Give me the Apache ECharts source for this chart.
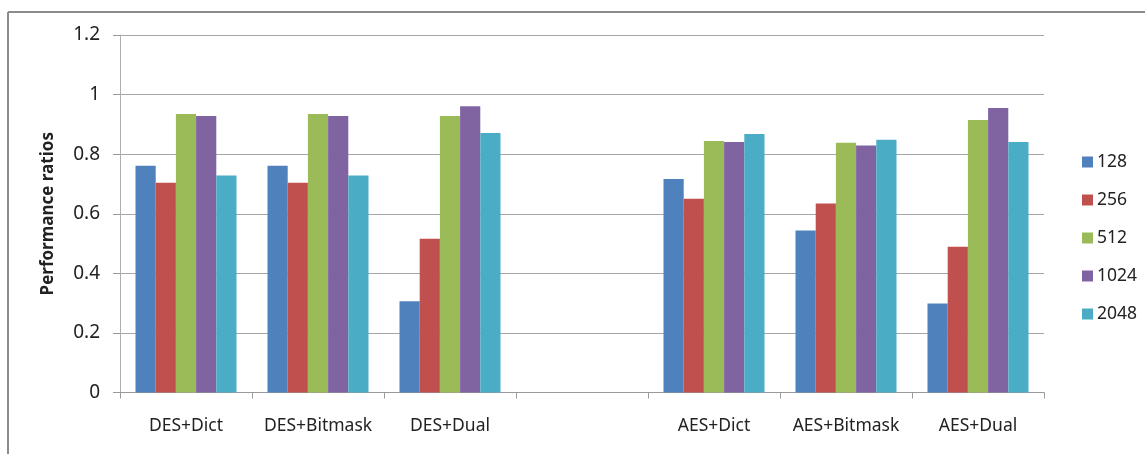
<!DOCTYPE html>
<html>
<head>
<meta charset="utf-8">
<script src="https://cdn.jsdelivr.net/npm/echarts@6/dist/echarts.min.js"></script>
<style>
  html, body { margin: 0; padding: 0; background: #fff; }
  #chart { width: 1145px; height: 454px; }
</style>
</head>
<body>
<div id="chart"></div>
<script>
// Cipher + compression scheme combinations (blank slot separates DES and AES groups)
const categories = ['DES+Dict', 'DES+Bitmask', 'DES+Dual', '', 'AES+Dict', 'AES+Bitmask', 'AES+Dual'];

// Series names (block / buffer sizes)
const seriesNames = ['128', '256', '512', '1024', '2048'];

// Performance ratios per size, one value per category
const v128  = [0.761, 0.761, 0.306, null, 0.717, 0.544, 0.299];
const v256  = [0.704, 0.704, 0.516, null, 0.650, 0.634, 0.489];
const v512  = [0.935, 0.935, 0.928, null, 0.844, 0.838, 0.915];
const v1024 = [0.928, 0.928, 0.961, null, 0.841, 0.829, 0.955];
const v2048 = [0.728, 0.728, 0.871, null, 0.868, 0.848, 0.841];

const yTicks = [0, 0.2, 0.4, 0.6, 0.8, 1, 1.2];

const seriesValues = [v128, v256, v512, v1024, v2048];
const colors = ['#4F81BD', '#C0504D', '#9BBB59', '#8064A2', '#4BACC6'];

const FONT = '"Noto Sans", sans-serif';
const chart = echarts.init(document.getElementById('chart'), null, { renderer: 'canvas' });

chart.setOption({
  animation: false,
  backgroundColor: '#ffffff',
  color: colors,
  graphic: [
    // frame lines along the top and left edges
    { type: 'line', shape: { x1: 8, y1: 12, x2: 1145, y2: 12 }, style: { stroke: '#8c8c8c', lineWidth: 2 } },
    { type: 'line', shape: { x1: 8, y1: 12, x2: 8, y2: 454 }, style: { stroke: '#8c8c8c', lineWidth: 2 } }
  ],
  grid: { left: 120, right: 101, top: 35, bottom: 61.5 },
  legend: {
    orient: 'vertical',
    left: 1077,
    top: 148,
    icon: 'rect',
    itemWidth: 11,
    itemHeight: 11,
    itemGap: 20,
    textStyle: { fontFamily: FONT, fontSize: 17.5, color: '#222', lineHeight: 17, padding: [0, 0, 0, -1] },
    data: seriesNames
  },
  xAxis: {
    type: 'category',
    data: categories,
    axisLine: { lineStyle: { color: '#9a9a9a', width: 1 } },
    axisTick: { show: true, interval: 0, length: 6, lineStyle: { color: '#9a9a9a' } },
    axisLabel: { interval: 0, margin: 25, fontFamily: FONT, fontSize: 17.5, color: '#222' },
    splitLine: { show: false }
  },
  yAxis: {
    type: 'value',
    min: 0,
    max: 1.2,
    interval: 0.2,
    name: 'Performance ratios',
    nameLocation: 'middle',
    nameGap: 63,
    nameTextStyle: { fontFamily: FONT, fontSize: 17, fontWeight: 'bold', color: '#222' },
    axisLine: { show: true, lineStyle: { color: '#b0b0b0', width: 1 } },
    axisTick: { show: true, length: 7, lineStyle: { color: '#9a9a9a' } },
    axisLabel: {
      margin: 20,
      fontFamily: FONT,
      fontSize: 19,
      color: '#222',
      formatter: function (v) {
        const t = yTicks.find(function (k) { return Math.abs(k - v) < 1e-9; });
        return t === undefined ? '' : String(t);
      }
    },
    splitLine: { show: true, lineStyle: { color: '#a6a6a6', width: 1 } }
  },
  series: seriesNames.map(function (name, i) {
    return {
      name: name,
      type: 'bar',
      data: seriesValues[i],
      barGap: '0%',
      barCategoryGap: '23.5%',
      itemStyle: { color: colors[i] }
    };
  })
});
</script>
</body>
</html>
